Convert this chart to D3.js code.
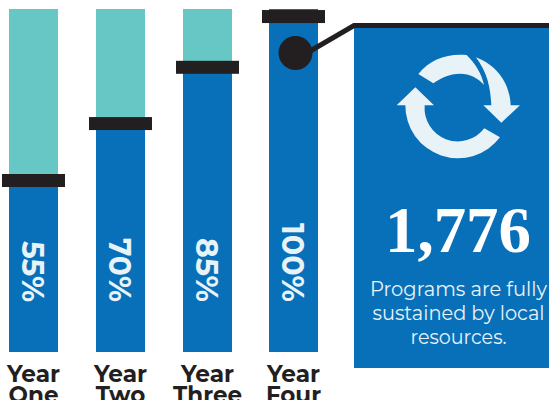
<!DOCTYPE html>
<html><head><meta charset="utf-8">
<script src="https://cdn.jsdelivr.net/npm/d3@7"></script>
<style>html,body{margin:0;padding:0;background:#fff;overflow:hidden}svg{display:block}</style>
</head><body><svg id="c" width="549" height="400"></svg>
<script>
const years = ["One","Two","Three","Four"];
const percentLabels = ["55%","70%","85%","100%"];
const markerLevels = [50, 66.6, 83, 97.8];
const bigNumber = "1,776";
const captionLines = ["Programs are fully","sustained by local","resources."];

const BLUE="#086fb9", TEAL="#66c7c5", INK="#231f20", PALE="#e8f3f7";
const SANS="Montserrat, Inter, 'Noto Sans', sans-serif";
const svg=d3.select("#c");
const xs=d3.scalePoint().domain(years).range([33.5,293.5]);
const x=k=>Math.ceil(xs(k)-0.5)+0.5;
const y=d3.scaleLinear().domain([0,100]).range([352,9]);
const bw=49, mw=63, mh=13;
const data=years.map((k,i)=>({k,level:markerLevels[i],label:percentLabels[i]}));
const fillTop=d=>d.label==="100%"?y(100):y(d.level);

svg.selectAll("rect.track").data(data).join("rect").attr("class","track")
  .attr("x",d=>x(d.k)-bw/2).attr("width",bw).attr("y",y(100)).attr("height",y(0)-y(100)).attr("fill",TEAL);
svg.selectAll("rect.fill").data(data).join("rect").attr("class","fill")
  .attr("x",d=>x(d.k)-bw/2).attr("width",bw)
  .attr("y",fillTop).attr("height",d=>y(0)-fillTop(d)).attr("fill",BLUE);
svg.selectAll("rect.marker").data(data).join("rect").attr("class","marker")
  .attr("x",d=>x(d.k)-mw/2).attr("width",mw).attr("y",d=>y(d.level)-mh/2).attr("height",mh).attr("fill",INK);

svg.selectAll("text.pct").data(data).join("text").attr("class","pct")
  .attr("transform",d=>`translate(${x(d.k)-12},302) rotate(90)`)
  .attr("text-anchor","end").attr("font-family",SANS).attr("font-weight",700).attr("font-size",30)
  .attr("textLength",d=>d.label.length===4?79:d.label==="55%"?61:64).attr("lengthAdjust","spacingAndGlyphs")
  .attr("fill",PALE).text(d=>d.label);

const yearG=svg.selectAll("g.yr").data(data).join("g").attr("class","yr")
  .attr("transform",d=>`translate(${x(d.k)},0)`)
  .attr("font-family",SANS).attr("font-weight",700).attr("font-size",23).attr("fill",INK).attr("text-anchor","middle");
yearG.append("text").attr("y",382).attr("textLength",53).attr("lengthAdjust","spacingAndGlyphs").text("Year");
yearG.append("text").attr("y",403).text(d=>d.k);

// callout
svg.append("rect").attr("x",354).attr("y",28).attr("width",195).attr("height",340).attr("fill",BLUE);
svg.append("path").attr("d","M300,57L354,25.5H549").attr("fill","none").attr("stroke",INK).attr("stroke-width",5);
svg.append("circle").attr("cx",295.5).attr("cy",53).attr("r",17).attr("fill",INK);

// recycle icon, drawn in the 3x zoom coordinates of its crop
const icon=svg.append("g").attr("transform","translate(340,0) scale(0.3333)").attr("fill",PALE);
icon.append("path").attr("d","M480,412A158,158 0 0 1 196,316H170L226,262L282,316H254A100,100 0 0 0 433,385Z");
icon.append("path").attr("d","M235,222C270,178 320,160 380,165C405,190 425,220 432,255C400,218 345,205 280,250Z");
icon.append("path").attr("d","M408,172C470,195 510,250 512,316H540L484,368L430,316H454C452,260 440,215 408,172Z");

svg.append("text").attr("x",458).attr("y",252).attr("text-anchor","middle")
  .attr("font-family","'Liberation Serif',serif").attr("font-weight",700).attr("font-size",65)
  .attr("fill","#fff").attr("textLength",146).attr("lengthAdjust","spacingAndGlyphs").text(bigNumber);
const capW=[177,172,96];
svg.selectAll("text.cap").data(captionLines).join("text").attr("class","cap")
  .attr("x",458.5).attr("y",(d,i)=>296+i*24).attr("text-anchor","middle")
  .attr("font-family",SANS).attr("font-weight",400).attr("font-size",20).attr("fill",PALE)
  .attr("textLength",(d,i)=>capW[i]).attr("lengthAdjust","spacingAndGlyphs").text(d=>d);
</script></body></html>
